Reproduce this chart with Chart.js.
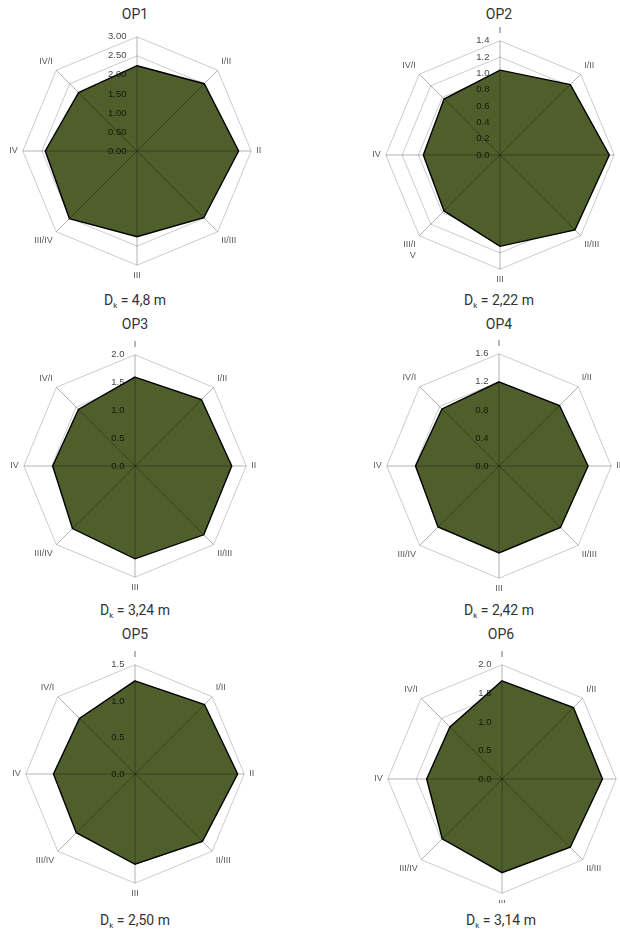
<!DOCTYPE html>
<html>
<head>
<meta charset="utf-8">
<script src="https://cdn.jsdelivr.net/npm/chart.js@4.4.1/dist/chart.umd.min.js"></script>
<style>
  html, body { margin: 0; padding: 0; background: #fff; }
  body { width: 620px; height: 930px; position: relative; overflow: hidden; font-family: Roboto, "Liberation Sans", sans-serif; }
  .box { position: absolute; overflow: hidden; }
  .title, .caption { position: absolute; width: 260px; text-align: center; color: #333; font-size: 14px; line-height: 16px; }
  .caption sub { font-size: 8px; vertical-align: -3px; line-height: 0; }
</style>
</head>
<body>
<script>
  // Directions round each measuring point
  const categories = ['I', 'I/II', 'II', 'II/III', 'III', 'III/IV', 'IV', 'IV/I'];
  // OP2 wraps its III/IV label on two lines in the original
  const categoriesOP2 = ['I', 'I/II', 'II', 'II/III', 'III', ['III/I', 'V'], 'IV', 'IV/I'];

  const titles = ['OP1', 'OP2', 'OP3', 'OP4', 'OP5', 'OP6'];
  const dkValues = ['4,8', '2,22', '3,24', '2,42', '2,50', '3,14'];

  // values, order I, I/II, II, II/III, III, III/IV, IV, IV/I
  const op1 = [2.24, 2.50, 2.67, 2.48, 2.25, 2.51, 2.41, 2.17];
  const op2 = [1.04, 1.22, 1.34, 1.30, 1.12, 0.97, 0.94, 0.97];
  const op3 = [1.60, 1.69, 1.74, 1.75, 1.67, 1.59, 1.48, 1.44];
  const op4 = [1.20, 1.22, 1.27, 1.24, 1.24, 1.23, 1.19, 1.15];
  const op5 = [1.28, 1.35, 1.41, 1.31, 1.24, 1.14, 1.12, 1.08];
  const op6 = [1.72, 1.77, 1.76, 1.69, 1.64, 1.48, 1.32, 1.29];

  // axis maximum, step and decimals of the tick labels
  const axisMax = [3, 1.4, 2, 1.6, 1.5, 2];
  const axisStep = [0.5, 0.2, 0.5, 0.4, 0.5, 0.5];
  const tickDecimals = [2, 1, 1, 1, 1, 1];

  const series = [op1, op2, op3, op4, op5, op6];

  // canvas placement (left, top, size), title / caption rows, bottom clip
  const boxes = [
    { left: 6,   top: 22,  size: 260, row: 0,   clip: 0 },
    { left: 369, top: 26,  size: 260, row: 0,   clip: 0 },
    { left: 7,   top: 340, size: 254, row: 310, clip: 0 },
    { left: 370, top: 339, size: 256, row: 310, clip: 0 },
    { left: 9,   top: 650, size: 250, row: 620, clip: 0 },
    { left: 371, top: 650, size: 260, row: 620, clip: 253 }
  ];
  const titleCenters = [135, 499, 135, 499, 135, 501];

  const fillColor = '#4e5f2c';

  // tick numbers drawn above the filled area, right aligned next to the axis
  const tickLabelPlugin = {
    id: 'tickLabels',
    afterDatasetsDraw(chart) {
      const s = chart.scales.r;
      const ctx = chart.ctx;
      ctx.save();
      ctx.font = '9.5px Arial, "Liberation Sans", sans-serif';
      ctx.fillStyle = 'rgba(0,0,0,0.75)';
      ctx.textAlign = 'right';
      ctx.textBaseline = 'middle';
      s.ticks.forEach(t => {
        const d = s.getDistanceFromCenterForValue(t.value);
        ctx.fillText(t.label, s.xCenter - 10.5, s.yCenter - d);
      });
      ctx.restore();
    }
  };

  series.forEach((vals, i) => {
    const b = boxes[i];

    const title = document.createElement('div');
    title.className = 'title';
    title.style.left = (titleCenters[i] - 130) + 'px';
    title.style.top = (b.row + 6) + 'px';
    title.textContent = titles[i];
    document.body.appendChild(title);

    const wrap = document.createElement('div');
    wrap.className = 'box';
    wrap.style.left = b.left + 'px';
    wrap.style.top = b.top + 'px';
    wrap.style.width = b.size + 'px';
    wrap.style.height = (b.clip || b.size) + 'px';
    const canvas = document.createElement('canvas');
    canvas.width = b.size;
    canvas.height = b.size;
    wrap.appendChild(canvas);
    document.body.appendChild(wrap);

    const cap = document.createElement('div');
    cap.className = 'caption';
    cap.style.left = (titleCenters[i] - 130) + 'px';
    cap.style.top = (b.row + 292) + 'px';
    cap.innerHTML = 'D<sub>k</sub> = ' + dkValues[i] + ' m';
    document.body.appendChild(cap);

    const labelFont = { family: 'Arial, "Liberation Sans", sans-serif', size: 9 };
    const hideFirst = i === 0;

    new Chart(canvas.getContext('2d'), {
      type: 'radar',
      data: {
        labels: i === 1 ? categoriesOP2 : categories,
        datasets: [{
          data: vals,
          backgroundColor: fillColor,
          borderColor: '#000',
          borderWidth: 1.4,
          pointRadius: 0,
          fill: true
        }]
      },
      options: {
        responsive: false,
        animation: false,
        plugins: { legend: { display: false }, tooltip: { enabled: false } },
        scales: {
          r: {
            min: 0,
            max: axisMax[i],
            ticks: {
              display: false,
              stepSize: axisStep[i],
              callback: v => Number(v).toFixed(tickDecimals[i])
            },
            grid: { color: '#cccccc', lineWidth: 1 },
            angleLines: { display: false },
            pointLabels: {
              font: labelFont,
              color: c => (hideFirst && c.index === 0) ? 'rgba(0,0,0,0)' : '#5a5a5a'
            }
          },
          // second scale only to lay the spokes over the filled area
          r2: {
            type: 'radialLinear',
            axis: 'r',
            min: 0,
            max: axisMax[i],
            ticks: { display: false, stepSize: axisStep[i] },
            grid: { display: false, z: 1 },
            angleLines: { display: true, color: 'rgba(0,0,0,0.3)', lineWidth: 1 },
            pointLabels: { font: labelFont, color: 'rgba(0,0,0,0)' }
          }
        }
      },
      plugins: [tickLabelPlugin]
    });
  });
</script>
</body>
</html>
